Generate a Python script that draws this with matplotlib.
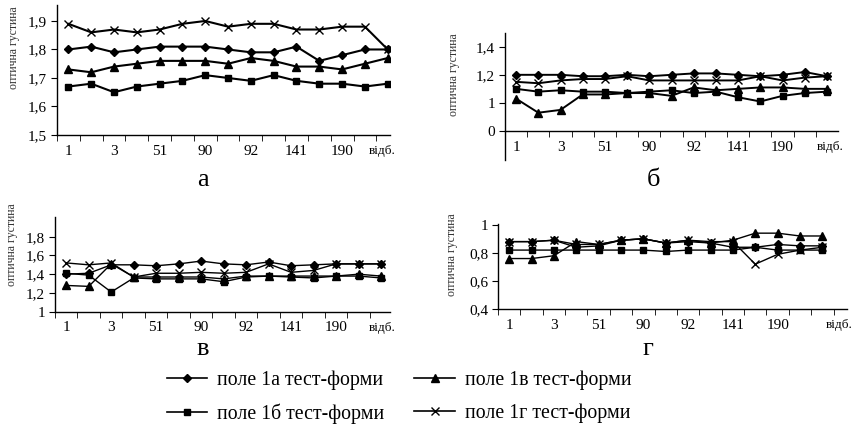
"""
Optical density of test-form fields across print samples (four panels а-г).
"""
import numpy as np
import matplotlib.pyplot as plt
from matplotlib.lines import Line2D
from matplotlib.ticker import FuncFormatter

plt.rcParams['font.family'] = ['Liberation Serif', 'DejaVu Serif']

# category labels (every second sample is labelled)
samples = list(range(15))
tick_labels = ['1', '3', '51', '90', '92', '141', '190']
series_names = ['поле 1а тест-форми', 'поле 1б тест-форми',
                'поле 1в тест-форми', 'поле 1г тест-форми']

# panel а
a_1a = [1.80, 1.81, 1.79, 1.80, 1.81, 1.81, 1.81, 1.80, 1.79, 1.79, 1.81, 1.76, 1.78, 1.80, 1.80]
a_1b = [1.67, 1.68, 1.65, 1.67, 1.68, 1.69, 1.71, 1.70, 1.69, 1.71, 1.69, 1.68, 1.68, 1.67, 1.68]
a_1v = [1.73, 1.72, 1.74, 1.75, 1.76, 1.76, 1.76, 1.75, 1.77, 1.76, 1.74, 1.74, 1.73, 1.75, 1.77]
a_1g = [1.89, 1.86, 1.87, 1.86, 1.87, 1.89, 1.90, 1.88, 1.89, 1.89, 1.87, 1.87, 1.88, 1.88, 1.80]

# panel б
b_1a = [1.20, 1.20, 1.20, 1.19, 1.19, 1.20, 1.19, 1.20, 1.21, 1.21, 1.20, 1.19, 1.20, 1.22, 1.19]
b_1b = [1.10, 1.08, 1.09, 1.08, 1.08, 1.07, 1.08, 1.09, 1.07, 1.08, 1.04, 1.01, 1.05, 1.07, 1.08]
b_1v = [1.03, 0.93, 0.95, 1.06, 1.06, 1.07, 1.07, 1.05, 1.11, 1.09, 1.10, 1.11, 1.11, 1.10, 1.10]
b_1g = [1.15, 1.14, 1.16, 1.17, 1.17, 1.19, 1.16, 1.16, 1.16, 1.16, 1.16, 1.19, 1.16, 1.18, 1.19]

# panel в
v_1a = [1.40, 1.41, 1.50, 1.50, 1.49, 1.51, 1.54, 1.51, 1.50, 1.53, 1.49, 1.50, 1.51, 1.51, 1.51]
v_1b = [1.41, 1.39, 1.21, 1.36, 1.35, 1.35, 1.35, 1.32, 1.37, 1.38, 1.37, 1.36, 1.38, 1.38, 1.36]
v_1v = [1.28, 1.27, 1.51, 1.37, 1.37, 1.37, 1.37, 1.35, 1.38, 1.38, 1.38, 1.38, 1.38, 1.40, 1.38]
v_1g = [1.52, 1.50, 1.52, 1.37, 1.41, 1.41, 1.42, 1.41, 1.42, 1.51, 1.42, 1.44, 1.51, 1.51, 1.51]

# panel г
g_1a = [0.88, 0.88, 0.89, 0.84, 0.85, 0.89, 0.90, 0.87, 0.88, 0.87, 0.84, 0.84, 0.86, 0.85, 0.85]
g_1b = [0.82, 0.82, 0.82, 0.82, 0.82, 0.82, 0.82, 0.81, 0.82, 0.82, 0.82, 0.84, 0.82, 0.82, 0.82]
g_1v = [0.76, 0.76, 0.78, 0.88, 0.86, 0.89, 0.90, 0.87, 0.89, 0.87, 0.89, 0.94, 0.94, 0.92, 0.92]
g_1g = [0.88, 0.88, 0.89, 0.86, 0.86, 0.89, 0.90, 0.87, 0.89, 0.88, 0.88, 0.72, 0.79, 0.82, 0.84]

styles = [dict(marker='D', ms=4.5), dict(marker='s', ms=5),
          dict(marker='^', ms=6), dict(marker='x', ms=6, mew=1.0)]

W, H = 851, 443
fig = plt.figure(figsize=(W / 100, H / 100), dpi=100)


def px_axes(left, top, right, bottom):
    return fig.add_axes([left / W, 1 - bottom / H, (right - left) / W, (bottom - top) / H])


comma = FuncFormatter(lambda v, p: ('%g' % round(v, 2)).replace('.', ','))

panels = [
    # data, box (l, t, r, b), ylim, yticks, ytick labels, x-axis base, xmax, letter pos, ylabel pos, lw
    ([a_1a, a_1b, a_1v, a_1g], (57, 5, 390, 135), (1.5, 1.956),
     [1.5, 1.6, 1.7, 1.8, 1.9], None, 1.5, 14.1, (203, 180), (14, 48), 1.5),
    ([b_1a, b_1b, b_1v, b_1g], (505, 33, 838, 160), (0.593, 1.498),
     [0.8, 1.0, 1.2, 1.4], ['0', '1', '1,2', '1,4'], 0.8, 14.5, (654, 180), (454, 75), 1.4),
    ([v_1a, v_1b, v_1v, v_1g], (55, 217, 390, 311.7), (1.0, 2.01),
     [1.0, 1.2, 1.4, 1.6, 1.8], None, 1.0, 14.4, (203, 349), (12, 245), 1.0),
    ([g_1a, g_1b, g_1v, g_1g], (498, 224, 847, 309.3), (0.4, 1.005),
     [0.4, 0.6, 0.8, 1.0], None, 0.4, 15.1, (648, 349), (452, 255), 1.0),
]
letters = ['а', 'б', 'в', 'г']

for (data, box, ylim, yt, ytl, base, xmax, lpos, ylpos, lw), letter in zip(panels, letters):
    ax = px_axes(*box)
    for vals, st in zip(data, styles):
        ax.plot(samples, vals, color='black', lw=lw, mfc='black', mec='black', **st)
    ax.set_xlim(-0.5, xmax)
    ax.set_ylim(*ylim)
    for s in ['top', 'right']:
        ax.spines[s].set_visible(False)
    ax.spines['bottom'].set_position(('data', base))
    ax.spines['left'].set_linewidth(1.0)
    ax.spines['bottom'].set_linewidth(1.0)
    ax.set_yticks(yt)
    if ytl is None:
        ax.yaxis.set_major_formatter(comma)
    else:
        ax.set_yticklabels(ytl)
    ax.set_xticks(samples[::2][:len(tick_labels)])
    ax.set_xticklabels(tick_labels)
    ax.set_xticks(np.arange(-0.5, xmax, 1.0), minor=True)
    ax.tick_params(axis='x', which='major', length=0, pad=7, labelsize=11)
    ax.tick_params(axis='x', which='minor', length=4, direction='out')
    ax.tick_params(axis='y', length=4, direction='out', pad=3, labelsize=11)
    ax.annotate('відб.', xy=(1, base), xycoords=('axes fraction', 'data'),
                xytext=(-8, -16), textcoords='offset pixels',
                ha='center', va='center', fontsize=9.5)
    fig.text(lpos[0] / W, 1 - lpos[1] / H, letter, fontsize=19,
             ha='center', va='center')
    fig.text(ylpos[0] / W, 1 - ylpos[1] / H, 'оптична густина', fontsize=8.5,
             rotation=90, ha='center', va='center', color='#333333')

handles = [Line2D([], [], color='black', lw=1.2, mfc='black', mec='black', **st)
           for st in styles]
fig.legend(handles, series_names, loc='center', ncol=2,
           bbox_to_anchor=(399 / W, 1 - 397 / H), frameon=False, fontsize=14.3,
           handlelength=2.05, labelspacing=0.68, columnspacing=1.5, handletextpad=0.5)

out = 'out.png'
plt.savefig(out, dpi=100)
plt.close()
print(f"Saved: {out}")
